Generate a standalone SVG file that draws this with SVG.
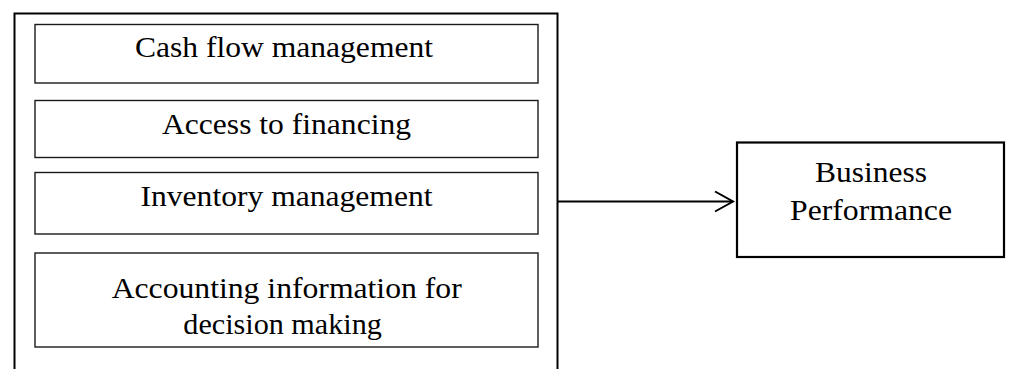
<svg xmlns="http://www.w3.org/2000/svg" width="1009" height="369" viewBox="0 0 1009 369">
<style>
.frame{fill:none;stroke:#000;stroke-width:2}
.inner{fill:#fff;stroke:#1a1a1a;stroke-width:1.4}
.outbox{fill:#fff;stroke:#000;stroke-width:2.2}
.lbl{font-family:"Liberation Serif","Times New Roman",serif;font-size:28.5px;fill:#000}
.conn{fill:none;stroke:#000;stroke-width:2}
</style>
<defs>
<marker id="arr" markerUnits="userSpaceOnUse" markerWidth="22" markerHeight="24" refX="19" refY="11" orient="auto">
<path d="M1,1 L19,11 L1,21" fill="none" stroke="#000" stroke-width="2"/>
</marker>
</defs>
<g id="factors">
<path class="frame" d="M14.5,369 V13.5 H557.5 V369"/>
</g>
<g id="node-cash">
<rect class="inner" x="35" y="24.5" width="503" height="58.5"/>
<text class="lbl" x="135" y="57.3" textLength="298" lengthAdjust="spacingAndGlyphs">Cash flow management</text>
</g>
<g id="node-financing">
<rect class="inner" x="35" y="100.5" width="503" height="57"/>
<text class="lbl" x="162" y="133.5" textLength="249" lengthAdjust="spacingAndGlyphs">Access to financing</text>
</g>
<g id="node-inventory">
<rect class="inner" x="35" y="172.5" width="503" height="61.5"/>
<text class="lbl" x="140.5" y="206" textLength="292" lengthAdjust="spacingAndGlyphs">Inventory management</text>
</g>
<g id="node-accounting">
<rect class="inner" x="35" y="253" width="503" height="94"/>
<text class="lbl" x="111.7" y="297.7" textLength="350" lengthAdjust="spacingAndGlyphs">Accounting information for</text>
<text class="lbl" x="183.3" y="334.3" textLength="198.5" lengthAdjust="spacingAndGlyphs">decision making</text>
</g>
<g id="node-performance">
<rect class="outbox" x="737" y="142.5" width="267" height="114.5"/>
<text class="lbl" x="815" y="182.3" textLength="112" lengthAdjust="spacingAndGlyphs">Business</text>
<text class="lbl" x="790" y="220" textLength="162" lengthAdjust="spacingAndGlyphs">Performance</text>
</g>
<g id="connectors">
<line class="conn" x1="557.5" y1="201.5" x2="733" y2="201.5" marker-end="url(#arr)"/>
</g>
</svg>
